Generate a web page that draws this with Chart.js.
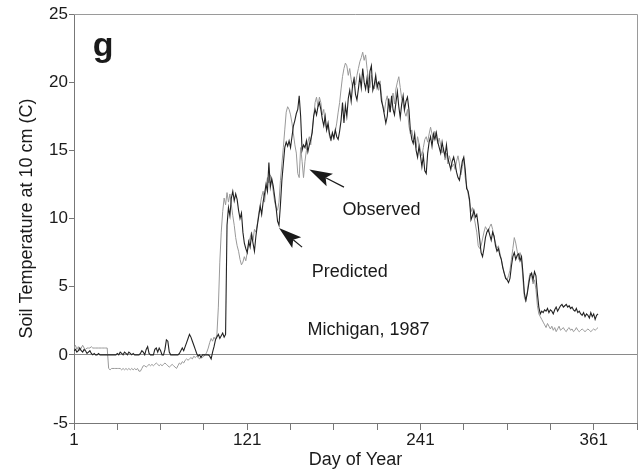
<!DOCTYPE html>
<html>
<head>
<meta charset="utf-8">
<script src="https://cdn.jsdelivr.net/npm/chart.js@4/dist/chart.umd.min.js"></script>
<style>
  html, body { margin: 0; padding: 0; background: #fff; }
</style>
</head>
<body>
<canvas id="soil" width="641" height="471"></canvas>
<script>
// daily soil temperature at 10 cm, Michigan 1987, starting on day 1
var predicted = [
  0.3,0.4,0.2,0.3,0.5,0.3,0.2,0.4,0.3,0.1,
  0.2,0.3,0.1,0.0,0.1,0.0,0.0,0.1,0.0,0.0,
  0.0,0.0,0.0,0.0,0.0,0.0,0.0,0.0,0.0,0.0,
  0.1,0.0,0.2,0.1,0.0,0.2,0.1,0.0,0.2,0.1,
  0.0,0.1,0.0,0.0,0.0,0.0,0.1,0.3,0.2,0.0,
  0.4,0.6,0.1,0.0,0.0,0.0,0.4,0.5,0.2,0.5,
  0.3,0.0,0.0,0.4,1.1,1.0,0.2,0.0,0.0,0.0,
  0.0,0.0,0.0,0.1,0.3,0.5,0.3,0.6,0.9,1.2,
  1.5,1.3,1.0,0.7,0.4,0.1,-0.1,0.0,-0.2,0.0,
  0.0,0.0,0.0,0.0,-0.1,-0.3,0.2,0.6,1.1,1.3,
  1.5,1.2,1.4,1.6,1.3,1.5,9.5,10.8,10.2,11.5,
  12.0,11.3,11.8,11.4,10.6,10.0,10.4,9.0,8.2,7.8,
  7.5,8.3,7.9,8.8,8.2,7.6,8.7,9.5,10.2,10.9,
  10.3,11.2,11.8,12.5,12.0,14.1,12.3,12.9,12.4,11.6,
  10.8,9.8,9.5,11.0,12.8,14.0,15.2,15.6,15.3,15.7,
  15.2,16.0,16.8,17.2,17.7,18.0,19.0,17.5,15.0,15.4,
  15.2,15.7,14.9,15.4,15.8,16.3,17.5,18.0,17.6,18.2,
  18.5,18.0,17.3,16.8,17.5,16.5,17.0,16.2,15.8,16.3,
  15.9,16.5,16.0,15.8,16.4,17.2,18.5,17.0,18.3,17.5,
  18.8,19.4,18.6,19.8,20.2,19.1,18.7,19.5,20.4,19.6,
  21.0,20.0,19.5,20.3,19.2,20.8,21.2,19.4,19.8,20.5,
  19.6,20.0,19.8,18.6,18.2,17.6,17.0,17.5,18.8,17.8,
  19.0,18.0,17.6,18.5,19.3,18.2,17.4,18.4,19.0,18.0,
  18.6,18.9,18.0,16.5,15.8,15.5,16.2,15.0,14.5,15.3,
  14.6,13.8,14.6,13.5,13.3,14.8,15.6,16.0,15.3,16.2,
  15.8,16.3,15.6,15.2,14.8,15.6,15.0,14.6,15.4,14.4,
  14.0,13.6,14.2,14.5,14.0,13.4,13.0,12.8,13.5,14.2,
  14.5,13.6,12.2,12.0,11.4,9.9,10.2,10.6,10.1,10.3,
  9.5,8.5,7.5,7.2,7.8,8.6,9.0,9.2,8.8,8.4,
  9.0,8.7,8.0,7.6,7.8,7.3,7.0,6.4,6.0,5.6,
  5.5,5.3,5.6,6.5,7.2,7.5,7.0,7.3,7.4,6.9,
  7.2,6.0,4.5,4.0,4.5,5.2,5.8,6.0,5.5,6.1,
  5.8,4.5,3.5,3.0,3.2,3.1,3.3,3.2,3.4,3.1,
  3.3,3.2,3.0,3.3,3.5,3.2,3.4,3.6,3.7,3.5,
  3.6,3.7,3.5,3.6,3.4,3.5,3.3,3.2,3.4,3.1,
  3.2,3.0,2.9,3.1,2.8,3.0,2.9,2.7,3.1,2.8,
  3.0,2.6,2.9,3.0
];
var observed = [
  0.5,0.7,0.4,0.6,0.3,0.5,0.7,0.5,0.4,0.5,
  0.5,0.5,0.6,0.5,0.5,0.5,0.5,0.5,0.5,0.5,
  0.5,0.5,0.5,0.5,-1.0,-1.1,-1.0,-1.0,-1.0,-1.0,
  -1.0,-1.0,-1.0,-1.1,-1.0,-1.1,-1.0,-1.1,-1.0,-1.1,
  -1.0,-1.1,-1.0,-1.1,-1.0,-1.2,-1.2,-1.0,-0.8,-0.8,
  -0.9,-0.8,-0.7,-0.8,-0.7,-0.8,-0.7,-0.6,-0.7,-0.8,
  -0.7,-0.8,-0.7,-0.6,-0.7,-0.8,-0.9,-0.8,-0.7,-0.8,
  -0.9,-1.0,-0.8,-0.6,-0.7,-0.5,-0.6,-0.4,-0.3,-0.4,
  -0.3,-0.2,-0.3,-0.1,-0.2,-0.1,-0.2,-0.3,-0.1,-0.2,
  -0.1,0.0,0.2,0.5,0.9,1.2,1.0,1.3,1.1,1.5,
  3.5,6.8,9.0,10.5,11.5,11.0,11.9,11.2,11.8,11.0,
  10.2,9.5,8.6,8.0,7.6,7.0,6.6,6.8,7.2,6.9,
  7.5,8.2,8.6,9.0,8.4,9.2,9.0,9.6,10.4,11.0,
  11.6,12.0,11.2,12.3,13.0,12.6,13.2,12.8,12.0,11.2,
  10.8,10.6,11.2,12.8,14.0,15.2,16.5,17.8,18.2,18.0,
  17.6,17.0,16.2,15.4,14.8,13.3,13.0,15.2,14.2,13.0,
  14.2,15.0,15.6,16.0,15.4,16.5,17.4,18.5,18.9,18.2,
  18.9,18.5,17.6,18.0,17.0,16.5,16.8,16.0,15.7,16.2,
  15.8,16.4,17.0,17.8,18.5,19.5,20.4,21.0,21.4,21.2,
  20.5,21.0,20.2,19.6,20.4,19.8,20.5,21.0,21.5,21.8,
  22.2,21.6,22.0,21.0,20.2,19.6,20.5,19.8,19.5,20.1,
  20.0,19.4,20.1,19.0,18.2,17.8,18.6,19.0,18.2,17.8,
  18.6,19.2,18.4,19.5,20.0,20.4,19.6,18.8,18.4,17.8,
  17.5,18.0,16.8,16.2,16.5,15.8,15.6,15.2,16.0,15.5,
  15.0,14.6,15.2,15.8,16.0,15.6,16.2,16.7,16.2,15.8,
  16.4,16.0,15.5,15.9,15.4,14.8,15.2,14.3,14.8,14.0,
  14.6,14.2,13.8,14.0,13.6,14.2,14.6,14.0,13.2,13.8,
  14.4,13.0,12.4,11.8,11.2,10.5,10.8,10.2,9.6,9.0,
  8.0,7.8,8.0,8.5,9.0,9.4,9.2,9.0,9.4,9.6,
  9.2,8.6,8.2,7.8,8.0,7.5,7.0,6.5,6.0,5.7,
  5.5,5.8,6.2,7.0,7.8,8.6,8.2,7.6,7.0,7.5,
  7.0,5.5,4.2,3.9,4.6,5.5,6.0,5.8,5.2,5.5,
  4.8,3.6,3.0,2.8,2.6,2.4,2.2,2.0,2.3,2.1,
  1.9,2.1,1.8,2.0,1.7,1.9,2.1,1.8,1.9,2.0,
  1.8,1.7,1.9,2.0,1.8,1.9,1.7,1.8,2.0,1.8,
  1.7,1.8,1.9,1.8,1.7,1.8,1.9,1.8,1.7,1.8,
  1.9,1.8,1.9,2.0
];

var dayTicks = [1, 31, 61, 91, 121, 151, 181, 211, 241, 271, 301, 331, 361, 391];
var dayLabels = [1, 121, 241, 361];
var tempTicks = [-5, 0, 5, 10, 15, 20, 25];

// text notes and arrows, placed in day / temperature units
var notes = [
  { text: 'Observed', day: 214, temp: 10.6 },
  { text: 'Predicted', day: 192, temp: 6.1 },
  { text: 'Michigan, 1987', day: 205, temp: 1.8 }
];
var arrows = [
  { from: [188, 12.3], to: [164, 13.6] },
  { from: [159, 7.9], to: [143, 9.3] }
];

var font = "'Liberation Sans', Arial, Helvetica, sans-serif";

function toPoints(values) {
  return values.map(function (v, i) { return { x: i + 1, y: v }; });
}

var extras = {
  id: 'extras',
  afterDraw: function (chart) {
    var ctx = chart.ctx;
    var x = chart.scales.x, y = chart.scales.y;
    var a = chart.chartArea;
    ctx.save();
    // frame top and right
    ctx.strokeStyle = '#9a9a9a';
    ctx.lineWidth = 1;
    ctx.beginPath();
    ctx.moveTo(a.left, a.top + 0.5);
    ctx.lineTo(a.right + 0.5, a.top + 0.5);
    ctx.lineTo(a.right + 0.5, a.bottom);
    ctx.stroke();

    // panel letter
    ctx.fillStyle = '#1a1a1a';
    ctx.font = 'bold 34px ' + font;
    ctx.textAlign = 'left';
    ctx.textBaseline = 'alphabetic';
    ctx.fillText('g', x.getPixelForValue(14), y.getPixelForValue(21.9));

    // notes
    ctx.font = '18px ' + font;
    ctx.textAlign = 'center';
    ctx.textBaseline = 'middle';
    notes.forEach(function (n) {
      ctx.fillText(n.text, x.getPixelForValue(n.day), y.getPixelForValue(n.temp));
    });

    // arrows
    ctx.strokeStyle = '#1a1a1a';
    ctx.lineWidth = 1.2;
    arrows.forEach(function (ar) {
      var x0 = x.getPixelForValue(ar.from[0]), y0 = y.getPixelForValue(ar.from[1]);
      var x1 = x.getPixelForValue(ar.to[0]), y1 = y.getPixelForValue(ar.to[1]);
      var ang = Math.atan2(y1 - y0, x1 - x0);
      var len = 23, half = 7;
      var cs = Math.cos(ang), sn = Math.sin(ang);
      ctx.beginPath();
      ctx.moveTo(x0, y0);
      ctx.lineTo(x1 - cs * len * 0.8, y1 - sn * len * 0.8);
      ctx.stroke();
      ctx.beginPath();
      ctx.moveTo(x1, y1);
      ctx.lineTo(x1 - cs * len - sn * half, y1 - sn * len + cs * half);
      ctx.lineTo(x1 - cs * len * 0.8, y1 - sn * len * 0.8);
      ctx.lineTo(x1 - cs * len + sn * half, y1 - sn * len - cs * half);
      ctx.closePath();
      ctx.fill();
    });
    ctx.restore();
  }
};

var chart = new Chart(document.getElementById('soil'), {
  type: 'line',
  data: {
    datasets: [
      {
        label: 'Predicted',
        data: toPoints(predicted),
        borderColor: '#222222',
        borderWidth: 1.1,
        pointRadius: 0,
        tension: 0
      },
      {
        label: 'Observed',
        data: toPoints(observed),
        borderColor: '#999999',
        borderWidth: 1,
        pointRadius: 0,
        tension: 0
      }
    ]
  },
  options: {
    responsive: false,
    animation: false,
    devicePixelRatio: 1,
    layout: { padding: { top: 14, right: 4, left: 0, bottom: 0 } },
    plugins: { legend: { display: false }, tooltip: { enabled: false } },
    scales: {
      x: {
        type: 'linear',
        min: 1,
        max: 391,
        afterBuildTicks: function (scale) {
          scale.ticks = dayTicks.map(function (v) { return { value: v }; });
        },
        afterFit: function (scale) { scale.height = 48; },
        ticks: {
          autoSkip: false,
          maxRotation: 0,
          padding: 0,
          color: '#1a1a1a',
          font: { family: font, size: 17 },
          callback: function (v) { return dayLabels.indexOf(v) >= 0 ? String(v) : ''; }
        },
        grid: { drawOnChartArea: false, tickLength: 7, tickColor: '#777' },
        border: { color: '#777', width: 1 },
        title: {
          display: true,
          text: 'Day of Year',
          color: '#1a1a1a',
          font: { family: font, size: 18 },
          padding: { top: 0, bottom: 0 }
        }
      },
      y: {
        min: -5,
        max: 25,
        afterBuildTicks: function (scale) {
          scale.ticks = tempTicks.map(function (v) { return { value: v }; });
        },
        afterFit: function (scale) { scale.width = 74; },
        ticks: {
          padding: 1,
          color: '#1a1a1a',
          font: { family: font, size: 17 }
        },
        grid: {
          tickLength: 5,
          tickColor: '#777',
          color: function (c) { return c.tick && c.tick.value === 0 ? '#8a8a8a' : 'rgba(0,0,0,0)'; }
        },
        border: { color: '#777', width: 1 },
        title: {
          display: true,
          text: 'Soil Temperature at 10 cm (C)',
          color: '#1a1a1a',
          font: { family: font, size: 18 },
          padding: { top: 16, bottom: 0 }
        }
      }
    }
  },
  plugins: [extras]
});
</script>
</body>
</html>
